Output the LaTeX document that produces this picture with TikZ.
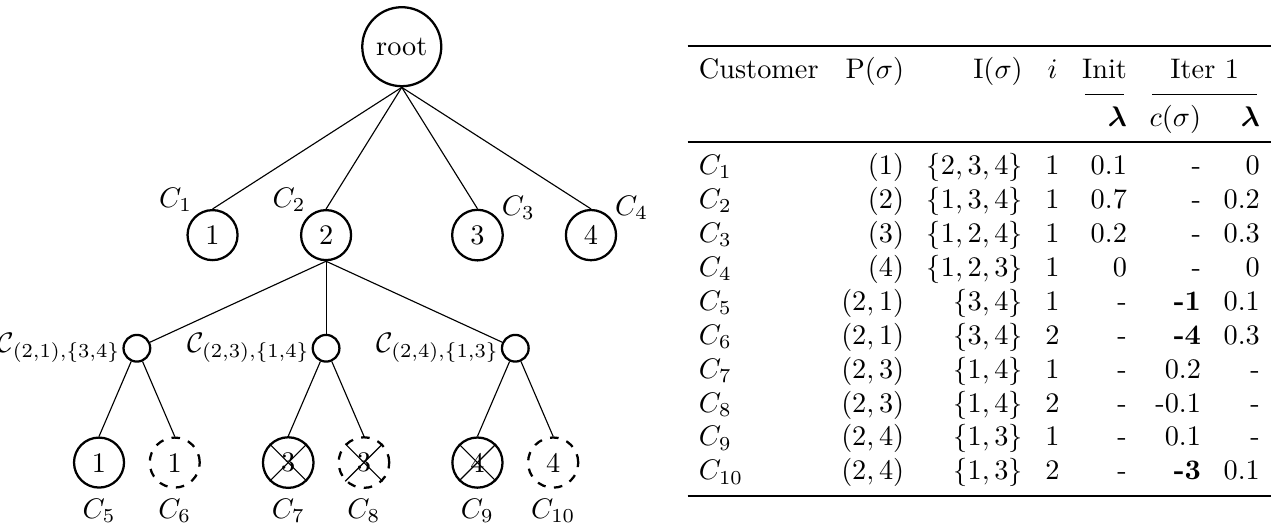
\documentclass[tikz,border=0pt]{standalone}
\usepackage{amsmath, amsfonts, amssymb}
\usepackage{booktabs}
\usepackage{tikz}
\usetikzlibrary{positioning}

\begin{document}
\begin{tikzpicture}[
        cnode/.style={draw, circle, thick},
        dnode/.style={draw, circle, thick, dashed},
        lblL/.style={label={[inner sep=0.5pt, yshift=1.2pt]above left:#1}},
        lblR/.style={label={[inner sep=1.8pt, yshift=-3pt]above right:#1}},
        lblS/.style={label={[inner sep=0.5pt]left:#1}}
    ]
            \useasboundingbox (-4.99, -5.965) rectangle (10.92, 0.58);
            % tree
            \node [cnode] (root) at (0, 0) {root};
            \node [cnode, lblL=$C_1$] (n1) at (-2.35, -2.34) {1};
            \node [cnode, lblL=$C_2$] (n2) at (-0.94, -2.34) {2};
            \node [cnode, lblR=$C_3$] (n3) at (0.94, -2.34) {3};
            \node [cnode, lblR=$C_4$] (n4) at (2.35, -2.34) {4};
            \node [cnode, lblS=$\mathcal{C}_{(2,1),\{3,4\}}$] (s1) at (-3.29, -3.745) {};
            \node [cnode, lblS=$\mathcal{C}_{(2,3),\{1,4\}}$] (s2) at (-0.94, -3.745) {};
            \node [cnode, lblS=$\mathcal{C}_{(2,4),\{1,3\}}$] (s3) at (1.41, -3.745) {};
            \node [cnode, label=below:$C_5$] (b5) at (-3.76, -5.165) {1};
            \node [dnode, label=below:$C_6$] (b6) at (-2.82, -5.165) {1};
            \node [cnode, label=below:$C_7$] (b7) at (-1.41, -5.165) {3};
            \node [dnode, label=below:$C_8$] (b8) at (-0.47, -5.165) {3};
            \node [cnode, label=below:$C_9$] (b9) at (0.94, -5.165) {4};
            \node [dnode, label=below:$C_{10}$] (b10) at (1.88, -5.165) {4};
            \draw (root.south) -- (n1.north);
            \draw (root.south) -- (n2.north);
            \draw (root.south) -- (n3.north);
            \draw (root.south) -- (n4.north);
            \draw (n2.south) -- (s1);
            \draw (n2.south) -- (s2);
            \draw (n2.south) -- (s3);
            \draw (s1) -- (b5.north);
            \draw (s1) -- (b6.north);
            \draw (s2) -- (b7.north);
            \draw (s2) -- (b8.north);
            \draw (s3) -- (b9.north);
            \draw (s3) -- (b10.north);
            % pruned
            \draw (b7.north west) -- (b7.south east);
            \draw (b7.north east) -- (b7.south west);
            \draw (b8.north west) -- (b8.south east);
            \draw (b8.north east) -- (b8.south west);
            \draw (b9.north west) -- (b9.south east);
            \draw (b9.north east) -- (b9.south west);
            % table
            \node [anchor=north west, inner sep=0pt] (tab) at (3.543, 0.0335) {%
                \setlength{\tabcolsep}{4pt}%
                \begin{tabular}{lrrcrrr}
                    \toprule
                    Customer & P$(\sigma)$ & I$(\sigma)$ & $i$ & Init & \multicolumn{2}{c}{Iter 1} \\
                    \cmidrule(lr){5-5} \cmidrule(lr){6-7}
                    & & & & $\boldsymbol{\lambda}$ & $c(\sigma)$ & $\boldsymbol{\lambda}$ \\
                    \midrule
                    $C_1$ & $(1)$ & $\{2,3,4\}$ & 1 & 0.1 & - & 0 \\
                    $C_2$ & $(2)$ & $\{1,3,4\}$ & 1 & 0.7 & - & 0.2 \\
                    $C_3$ & $(3)$ & $\{1,2,4\}$ & 1 & 0.2 & - & 0.3 \\
                    $C_4$ & $(4)$ & $\{1,2,3\}$ & 1 & 0 & - & 0 \\
                    $C_5$ & $(2,1)$ & $\{3,4\}$ & 1 & - & \textbf{-1} & 0.1 \\
                    $C_6$ & $(2,1)$ & $\{3,4\}$ & 2 & - & \textbf{-4} & 0.3 \\
                    $C_7$ & $(2,3)$ & $\{1,4\}$ & 1 & - & 0.2 & - \\
                    $C_8$ & $(2,3)$ & $\{1,4\}$ & 2 & - & -0.1 & - \\
                    $C_9$ & $(2,4)$ & $\{1,3\}$ & 1 & - & 0.1 & - \\
                    $C_{10}$ & $(2,4)$ & $\{1,3\}$ & 2 & - & \textbf{-3} & 0.1 \\
                    \bottomrule
                \end{tabular}};
        \end{tikzpicture}
\end{document}
